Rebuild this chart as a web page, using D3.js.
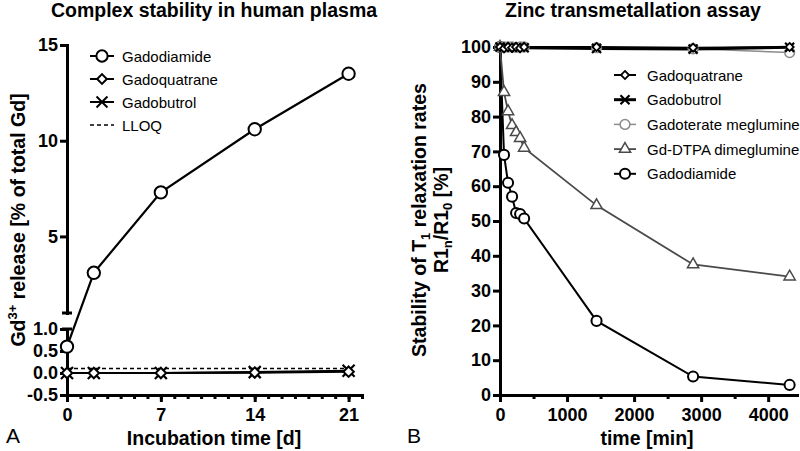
<!DOCTYPE html>
<html>
<head>
<meta charset="utf-8">
<script src="https://cdn.jsdelivr.net/npm/d3@7"></script>
<style>
  body { margin: 0; background: #fff; }
</style>
</head>
<body>
<div id="chart"></div>
<script>
// ---- Panel A: complex stability in human plasma ----
const daysA = [0, 2, 7, 14, 21];
const gadodiamideA = [0.6, 3.1, 7.3, 10.6, 13.5];
const gadoquatraneA = [0.0, 0.0, 0.0, 0.01, 0.03];
const gadobutrolA = [0.0, 0.0, 0.0, 0.02, 0.05];
const lloqA = 0.1;
const xTicksA = [0, 7, 14, 21];
const yTicksLowA = [-0.5, 0, 0.5, 1];
const yTicksHighA = [5, 10, 15];

// ---- Panel B: zinc transmetallation assay ----
const minutesB = [0, 60, 120, 180, 240, 300, 360, 1440, 2880, 4320];
const gadoquatraneB = [100, 99.6, 100, 99.8, 100, 99.7, 100, 100, 99.8, 100];
const gadobutrolB = [100, 100, 99.8, 100, 99.7, 100, 99.8, 99.6, 99.4, 99.9];
const gadoterateB = [100, 100, 100, 100, 99.9, 100, 100, 99.8, 99.5, 98.4];
const gdDtpaB = [100, 87, 81.5, 77.5, 75.5, 73.8, 71, 54.5, 37.5, 34];
const gadodiamideB = [100, 69, 61, 57, 52.3, 52, 50.7, 21.3, 5.3, 2.9];
const xTicksB = [0, 1000, 2000, 3000, 4000];
const xMinorB = [500, 1500, 2500, 3500];
const yTicksB = [0, 10, 20, 30, 40, 50, 60, 70, 80, 90, 100];

const FONT = "Arial, 'Liberation Sans', Helvetica, sans-serif";
const AXIS_W = 3;

const svg = d3.select("#chart").append("svg")
  .attr("width", 800)
  .attr("height", 451)
  .style("background", "#fff");

const symbolTypes = {
  circle: d3.symbolCircle,
  diamond: d3.symbolDiamond2,
  triangle: d3.symbolTriangle,
  x: d3.symbolX
};

// draw a marker series
function markers(g, pts, kind, size, color, sw) {
  const sym = d3.symbol().type(symbolTypes[kind]).size(size);
  g.selectAll(null)
    .data(pts)
    .enter()
    .append("path")
    .attr("transform", d => `translate(${d[0]},${d[1]})`)
    .attr("d", sym)
    .attr("fill", kind === "x" ? "none" : "#fff")
    .attr("stroke", color)
    .attr("stroke-width", sw);
}

function styleAxis(g, w) {
  g.attr("font-family", FONT).attr("font-size", 18).attr("font-weight", "bold");
  g.select(".domain").attr("stroke-width", w).attr("stroke-linecap", "square");
  g.selectAll(".tick line").attr("stroke-width", w);
  g.selectAll(".tick text").attr("fill", "#000");
}

// ================= Panel A =================
const xA = d3.scaleLinear().domain([0, 22]).range([67, 362]);
const yLowA = d3.scaleLinear().domain([-0.5, 1]).range([395, 329]);
const yHighA = d3.scaleLinear().domain([1, 15]).range([313, 45]);
const yA = v => (v <= 1 ? yLowA(v) : yHighA(v));

const gA = svg.append("g");

// x axis: minor then major ticks
const xMinorAxisA = gA.append("g")
  .attr("transform", `translate(0,${yLowA(-0.5)})`)
  .call(d3.axisBottom(xA).tickValues(d3.range(0, 23)).tickSize(4).tickSizeOuter(0).tickFormat(""));
styleAxis(xMinorAxisA, AXIS_W);
const xAxisA = gA.append("g")
  .attr("transform", `translate(0,${yLowA(-0.5)})`)
  .call(d3.axisBottom(xA).tickValues(xTicksA).tickSize(7).tickPadding(6).tickSizeOuter(0));
styleAxis(xAxisA, AXIS_W);

// split y axis
const yLowAxisA = gA.append("g")
  .attr("transform", `translate(${xA(0)},0)`)
  .call(d3.axisLeft(yLowA).tickValues(yTicksLowA).tickSize(7).tickPadding(2).tickSizeOuter(0)
    .tickFormat(d => d.toFixed(1)));
styleAxis(yLowAxisA, AXIS_W);
const yHighAxisA = gA.append("g")
  .attr("transform", `translate(${xA(0)},0)`)
  .call(d3.axisLeft(yHighA).tickValues(yTicksHighA).tickSize(7).tickPadding(2).tickSizeOuter(0));
styleAxis(yHighAxisA, AXIS_W);

// caps at the axis break
[yHighA(1), yLowA(1)].forEach(y => {
  gA.append("line")
    .attr("x1", xA(0) - 5).attr("x2", xA(0) + 5)
    .attr("y1", y).attr("y2", y)
    .attr("stroke", "#000").attr("stroke-width", AXIS_W);
});

// LLOQ dashed line
gA.append("line")
  .attr("x1", xA(0)).attr("x2", xA(21))
  .attr("y1", yA(lloqA)).attr("y2", yA(lloqA))
  .attr("stroke", "#000").attr("stroke-width", 1.5)
  .attr("stroke-dasharray", "4,3");

const lineA = d3.line().x(d => xA(d[0])).y(d => yA(d[1]));
const seriesA = [
  { vals: gadobutrolA, kind: "x", size: 96, sw: 2.2 },
  { vals: gadoquatraneA, kind: "diamond", size: 70, sw: 2 },
  { vals: gadodiamideA, kind: "circle", size: 120, sw: 2 }
];
seriesA.forEach(s => {
  const pts = daysA.map((d, i) => [d, s.vals[i]]);
  gA.append("path").attr("d", lineA(pts)).attr("fill", "none")
    .attr("stroke", "#000").attr("stroke-width", 2.2);
});
seriesA.forEach(s => {
  const pts = daysA.map((d, i) => [xA(d), yA(s.vals[i])]);
  markers(gA, pts, s.kind, s.size, "#000", s.sw);
});

// legend A
const legA = [
  { name: "Gadodiamide", kind: "circle", size: 100 },
  { name: "Gadoquatrane", kind: "diamond", size: 60 },
  { name: "Gadobutrol", kind: "x", size: 80 },
  { name: "LLOQ", kind: null }
];
legA.forEach((l, i) => {
  const y = 56 + i * 23;
  const line = gA.append("line")
    .attr("x1", 90).attr("x2", 114).attr("y1", y).attr("y2", y)
    .attr("stroke", "#000").attr("stroke-width", l.kind ? 2 : 1.5);
  if (!l.kind) line.attr("stroke-dasharray", "4,3");
  else markers(gA, [[102, y]], l.kind, l.size, "#000", 2);
  gA.append("text").attr("x", 122).attr("y", y + 5.5)
    .attr("font-family", FONT).attr("font-size", 15)
    .text(l.name);
});

// titles A
gA.append("text").attr("x", 214).attr("y", 17).attr("text-anchor", "middle")
  .attr("font-family", FONT).attr("font-size", 19.5).attr("font-weight", "bold")
  .text("Complex stability in human plasma");
gA.append("text").attr("x", 214).attr("y", 445).attr("text-anchor", "middle")
  .attr("font-family", FONT).attr("font-size", 19.5).attr("font-weight", "bold")
  .text("Incubation time [d]");
const yLabA = gA.append("text")
  .attr("transform", "translate(25,220) rotate(-90)")
  .attr("text-anchor", "middle")
  .attr("font-family", FONT).attr("font-size", 19.5).attr("font-weight", "bold");
yLabA.append("tspan").text("Gd");
yLabA.append("tspan").attr("font-size", 13).attr("dy", -8).text("3+");
yLabA.append("tspan").attr("dy", 8).text(" release [% of total Gd]");
gA.append("text").attr("x", 6).attr("y", 443)
  .attr("font-family", FONT).attr("font-size", 21).text("A");

// ================= Panel B =================
const xB = d3.scaleLinear().domain([0, 4430]).range([500, 797]);
const yB = d3.scaleLinear().domain([0, 100]).range([395, 47]);

const gB = svg.append("g");

const xMinorAxisB = gB.append("g")
  .attr("transform", `translate(0,${yB(0)})`)
  .call(d3.axisBottom(xB).tickValues(xMinorB).tickSize(4).tickSizeOuter(0).tickFormat(""));
styleAxis(xMinorAxisB, AXIS_W);
const xAxisB = gB.append("g")
  .attr("transform", `translate(0,${yB(0)})`)
  .call(d3.axisBottom(xB).tickValues(xTicksB).tickSize(7).tickPadding(6).tickSizeOuter(0)
    .tickFormat(d3.format("d")));
styleAxis(xAxisB, AXIS_W);
const yAxisB = gB.append("g")
  .attr("transform", `translate(${xB(0)},0)`)
  .call(d3.axisLeft(yB).tickValues(yTicksB).tickSize(7).tickPadding(2).tickSizeOuter(0));
styleAxis(yAxisB, AXIS_W);

const lineB = d3.line().x(d => xB(d[0])).y(d => yB(d[1]));
const seriesB = [
  { name: "Gadoquatrane", vals: gadoquatraneB, kind: "diamond", size: 42, color: "#000", lw: 2, sw: 1.8 },
  { name: "Gadobutrol", vals: gadobutrolB, kind: "x", size: 55, color: "#000", lw: 3, sw: 2.2 },
  { name: "Gadoterate meglumine", vals: gadoterateB, kind: "circle", size: 75, color: "#8c8c8c", lw: 1.5, sw: 1.5 },
  { name: "Gd-DTPA dimeglumine", vals: gdDtpaB, kind: "triangle", size: 55, color: "#4a4a4a", lw: 1.8, sw: 1.5 },
  { name: "Gadodiamide", vals: gadodiamideB, kind: "circle", size: 80, color: "#000", lw: 2, sw: 2 }
];
// lines first, then markers (top row drawn last so diamonds stay visible)
seriesB.slice().reverse().forEach(s => {
  const pts = minutesB.map((m, i) => [m, s.vals[i]]);
  gB.append("path").attr("d", lineB(pts)).attr("fill", "none")
    .attr("stroke", s.color).attr("stroke-width", s.lw);
});
seriesB.slice().reverse().forEach(s => {
  const pts = minutesB.map((m, i) => [xB(m), yB(s.vals[i])]);
  markers(gB, pts, s.kind, s.size, s.color, s.sw);
});

// legend B
seriesB.forEach((s, i) => {
  const y = 75 + i * 24.7;
  gB.append("line")
    .attr("x1", 614).attr("x2", 636).attr("y1", y).attr("y2", y)
    .attr("stroke", s.color).attr("stroke-width", s.lw);
  markers(gB, [[625, y]], s.kind, s.size, s.color, s.sw);
  gB.append("text").attr("x", 647).attr("y", y + 5.5)
    .attr("font-family", FONT).attr("font-size", 15)
    .text(s.name);
});

// titles B
gB.append("text").attr("x", 633).attr("y", 17).attr("text-anchor", "middle")
  .attr("font-family", FONT).attr("font-size", 19.5).attr("font-weight", "bold")
  .text("Zinc transmetallation assay");
gB.append("text").attr("x", 647).attr("y", 445).attr("text-anchor", "middle")
  .attr("font-family", FONT).attr("font-size", 19.5).attr("font-weight", "bold")
  .text("time [min]");
const yLabB1 = gB.append("text")
  .attr("transform", "translate(426,220) rotate(-90)")
  .attr("text-anchor", "middle")
  .attr("font-family", FONT).attr("font-size", 19.5).attr("font-weight", "bold");
yLabB1.append("tspan").text("Stability of T");
yLabB1.append("tspan").attr("font-size", 13).attr("dy", 4).text("1");
yLabB1.append("tspan").attr("dy", -4).text(" relaxation rates");
const yLabB2 = gB.append("text")
  .attr("transform", "translate(448,220) rotate(-90)")
  .attr("text-anchor", "middle")
  .attr("font-family", FONT).attr("font-size", 19.5).attr("font-weight", "bold");
yLabB2.append("tspan").text("R1");
yLabB2.append("tspan").attr("font-size", 13).attr("dy", 4).text("n");
yLabB2.append("tspan").attr("dy", -4).text("/R1");
yLabB2.append("tspan").attr("font-size", 13).attr("dy", 4).text("0");
yLabB2.append("tspan").attr("dy", -4).text(" [%]");
gB.append("text").attr("x", 407).attr("y", 443)
  .attr("font-family", FONT).attr("font-size", 21).text("B");
</script>
</body>
</html>
